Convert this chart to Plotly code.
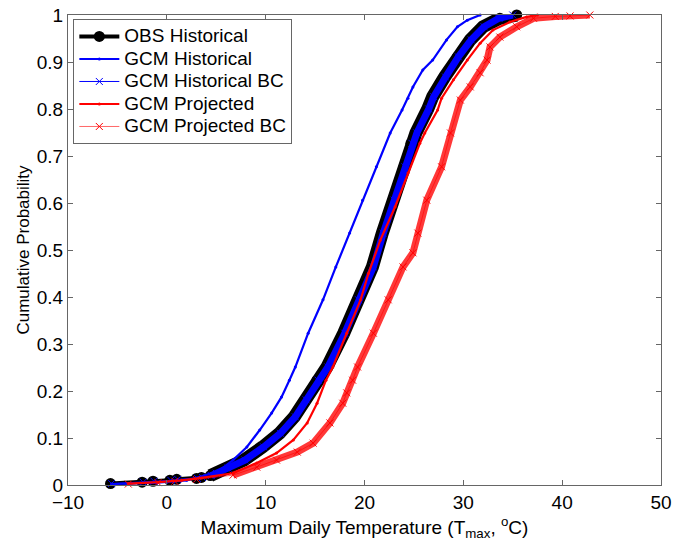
import plotly.graph_objects as go

# ---- Data (temperature in degC at cumulative probability) ----
obs_prob = [0.003, 0.006, 0.008, 0.010, 0.012, 0.014, 0.016, 0.020, 0.025, 0.036, 0.053, 0.081,
            0.110, 0.145, 0.181, 0.223, 0.251, 0.323, 0.394, 0.464, 0.536, 0.606, 0.677, 0.727,
            0.749, 0.800, 0.826, 0.868, 0.911, 0.947, 0.975, 0.993, 1.000]
obs_temp = [-5.7, -2.5, -1.4, 0.3, 1.0, 3.0, 3.5, 4.4, 4.9, 6.1, 7.8, 9.7,
            11.4, 12.9, 14.0, 15.2, 16.2, 17.9, 19.3, 20.8, 21.8, 22.9, 24.0, 24.7,
            25.2, 26.4, 26.9, 28.1, 29.4, 30.7, 32.0, 33.7, 35.4]

gcm_hist_prob = [0.002, 0.005, 0.010, 0.020, 0.032, 0.053, 0.081, 0.117, 0.153, 0.187, 0.223,
                 0.251, 0.323, 0.394, 0.464, 0.536, 0.606, 0.677, 0.749, 0.798, 0.823, 0.847,
                 0.883, 0.904, 0.947, 0.975, 0.989, 1.000]
gcm_hist_temp = [-5.6, -1.0, 2.0, 3.8, 5.4, 6.7, 8.1, 9.4, 10.6, 11.6, 12.4,
                 13.0, 14.3, 15.8, 17.1, 18.5, 19.8, 21.2, 22.6, 23.8, 24.4, 24.9,
                 25.9, 26.9, 28.3, 29.4, 30.4, 31.7]

gcm_hist_bc_prob = [0.003, 0.006, 0.008, 0.010, 0.012, 0.014, 0.016, 0.020, 0.025, 0.036, 0.053,
                    0.081, 0.110, 0.145, 0.181, 0.223, 0.251, 0.323, 0.394, 0.464, 0.536, 0.606,
                    0.677, 0.727, 0.749, 0.800, 0.826, 0.868, 0.911, 0.947, 0.975, 0.993, 1.000]
gcm_hist_bc_temp = [-5.6, -2.4, -1.3, 0.4, 1.1, 3.1, 3.6, 4.5, 5.0, 6.2, 7.9,
                    9.8, 11.5, 13.0, 14.1, 15.3, 16.3, 18.0, 19.4, 20.9, 21.9, 23.0,
                    24.1, 24.8, 25.3, 26.5, 27.0, 28.2, 29.5, 30.8, 32.1, 33.6, 35.0]

gcm_proj_prob = [0.003, 0.006, 0.010, 0.015, 0.025, 0.047, 0.068, 0.096, 0.132, 0.174, 0.223,
                 0.251, 0.323, 0.394, 0.450, 0.521, 0.592, 0.664, 0.727, 0.749, 0.798, 0.823,
                 0.862, 0.904, 0.940, 0.968, 0.985, 0.996, 1.000]
gcm_proj_temp = [-3.9, -0.9, 1.5, 3.5, 6.7, 9.1, 11.1, 12.8, 14.2, 15.2, 16.1,
                 16.8, 18.2, 19.6, 20.4, 21.6, 23.1, 24.4, 25.6, 26.1, 27.4, 27.8,
                 29.0, 30.4, 31.7, 33.0, 34.7, 36.4, 37.5]

gcm_proj_bc_prob = [0.002, 0.005, 0.008, 0.012, 0.021, 0.038, 0.053, 0.070, 0.089, 0.132, 0.174,
                    0.196, 0.223, 0.251, 0.323, 0.394, 0.464, 0.494, 0.536, 0.606, 0.677, 0.749,
                    0.819, 0.847, 0.877, 0.904, 0.932, 0.953, 0.975, 0.993, 0.997, 0.998, 1.000]
gcm_proj_bc_temp = [-3.9, -0.9, 0.8, 3.0, 6.7, 9.1, 11.1, 13.2, 14.8, 16.5, 17.8,
                    18.2, 18.8, 19.3, 20.9, 22.4, 23.9, 24.9, 25.4, 26.3, 27.8, 28.7,
                    29.7, 30.7, 31.7, 32.4, 32.7, 33.7, 35.4, 37.1, 39.3, 40.8, 42.8]

x_ticks = [-10, 0, 10, 20, 30, 40, 50]
y_ticks = [0, 0.1, 0.2, 0.3, 0.4, 0.5, 0.6, 0.7, 0.8, 0.9, 1]
y_tick_text = ["0", "0.1", "0.2", "0.3", "0.4", "0.5", "0.6", "0.7", "0.8", "0.9", "1"]

series_names = ["OBS Historical", "GCM Historical", "GCM Historical BC",
                "GCM Projected", "GCM Projected BC"]

FONT = "Liberation Sans, Arial, Helvetica, sans-serif"
BLUE = "#0000ff"
RED = "#ff0000"


def legend_label(name):
    return '<span style="font-size:19px">' + name + '</span>'


# index where the sample points become dense enough to look like a solid band
OBS_BAND_START = 7
PROJ_BC_BAND_START = 4

fig = go.Figure()

# OBS Historical: thick black band + circles
fig.add_trace(go.Scatter(x=obs_temp[OBS_BAND_START:], y=obs_prob[OBS_BAND_START:], mode="lines",
                         showlegend=False, line=dict(color="black", width=13),
                         cliponaxis=False, hoverinfo="skip"))
fig.add_trace(go.Scatter(x=obs_temp, y=obs_prob, mode="lines+markers",
                         name=legend_label(series_names[0]),
                         line=dict(color="black", width=4),
                         marker=dict(symbol="circle", size=11, color="black"), cliponaxis=False))

# GCM Historical
fig.add_trace(go.Scatter(x=gcm_hist_temp, y=gcm_hist_prob, mode="lines+markers",
                         name=legend_label(series_names[1]),
                         line=dict(color=BLUE, width=2.2),
                         marker=dict(symbol="circle", size=3, color=BLUE), cliponaxis=False))

# GCM Historical BC: blue band inside black
fig.add_trace(go.Scatter(x=gcm_hist_bc_temp[OBS_BAND_START:], y=gcm_hist_bc_prob[OBS_BAND_START:],
                         mode="lines", showlegend=False,
                         line=dict(color=BLUE, width=7), cliponaxis=False, hoverinfo="skip"))
fig.add_trace(go.Scatter(x=gcm_hist_bc_temp, y=gcm_hist_bc_prob, mode="lines+markers",
                         name=legend_label(series_names[2]),
                         line=dict(color=BLUE, width=1),
                         marker=dict(symbol="x-thin", size=7, line=dict(color=BLUE, width=1)),
                         cliponaxis=False))

# GCM Projected
fig.add_trace(go.Scatter(x=gcm_proj_temp, y=gcm_proj_prob, mode="lines+markers",
                         name=legend_label(series_names[3]),
                         line=dict(color=RED, width=2.2),
                         marker=dict(symbol="circle", size=3, color=RED), cliponaxis=False))

# GCM Projected BC: red band with x markers
fig.add_trace(go.Scatter(x=gcm_proj_bc_temp[PROJ_BC_BAND_START:],
                         y=gcm_proj_bc_prob[PROJ_BC_BAND_START:], mode="lines", showlegend=False,
                         line=dict(color="rgba(255,0,0,0.78)", width=7), cliponaxis=False,
                         hoverinfo="skip"))
fig.add_trace(go.Scatter(x=gcm_proj_bc_temp, y=gcm_proj_bc_prob, mode="lines+markers",
                         name=legend_label(series_names[4]),
                         line=dict(color="rgba(255,0,0,0.6)", width=1),
                         marker=dict(symbol="x-thin", size=7, line=dict(color=RED, width=1)),
                         cliponaxis=False))

axis_common = dict(showline=True, linecolor="#666666", linewidth=1, mirror="ticks",
                   ticks="inside", ticklen=5, tickcolor="#666666", showgrid=False,
                   zeroline=False, automargin=False,
                   tickfont=dict(family=FONT, size=19, color="black"))

fig.update_layout(
    width=673, height=541,
    margin=dict(l=68, r=12, t=15, b=56, autoexpand=False),
    paper_bgcolor="white", plot_bgcolor="white",
    font=dict(family=FONT, size=18, color="black"),
    xaxis=dict(range=[-10, 50], tickvals=x_ticks,
               title=dict(text="Maximum Daily Temperature (T<sub>max</sub>, <sup>o</sup>C)",
                          font=dict(family=FONT, size=19)),
               **axis_common),
    yaxis=dict(range=[0, 1], tickvals=y_ticks, ticktext=y_tick_text,
               title=dict(text="Cumulative Probability", font=dict(family=FONT, size=17),
                          standoff=2),
               **axis_common),
    legend=dict(x=0.009, y=0.991, xanchor="left", yanchor="top",
                bgcolor="white", bordercolor="#666666", borderwidth=1,
                font=dict(family=FONT, size=15, color="black"),
                itemwidth=40, tracegroupgap=0),
    showlegend=True,
)

fig.write_html("out.html")
